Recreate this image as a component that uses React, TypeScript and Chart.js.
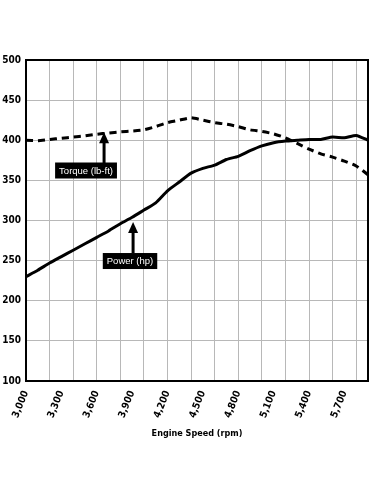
import React, { useEffect, useRef } from "react";
import { Chart, registerables } from "chart.js";

Chart.register(...registerables);

const rpm = [3000, 3100, 3200, 3300, 3400, 3500, 3600, 3700, 3800, 3900, 4000, 4100, 4200, 4300, 4400, 4500, 4600, 4700, 4800, 4900, 5000, 5100, 5200, 5300, 5400, 5500, 5600, 5700, 5800, 5900];
const powerHp = [230, 238, 247, 255, 263, 271, 279, 287, 296, 304, 313, 322, 337, 348, 359, 365, 369, 376, 380, 387, 393, 397, 399, 400, 401, 401, 404, 403, 406, 400];
const torqueLbFt = [400, 399.5, 401, 402.5, 404, 405.5, 407.5, 409, 410.5, 411.5, 413, 417, 422, 425, 428, 425, 422, 420, 417, 413, 411, 408, 403, 396, 389, 383, 379, 374, 368, 357];

const yMin = 100;
const yMax = 500;
const yStep = 50;
const xMin = 3000;
const xMax = 5900;

const noteText = ["Torque (lb-ft)", "Power (hp)"];
const noteBoxRpm = [3509, 3882];
const noteBoxValue = [362.3, 249.5];
const noteArrowRpm = [3662, 3908];
const noteArrowTip = [410, 298];
const noteArrowBase = [371.6, 259.5];

const xTitle = "Engine Speed (rpm)";
const condensed = "'DejaVu Sans Condensed', 'Liberation Sans Narrow', 'DejaVu Sans', sans-serif";

const framePlugin = {
  id: "frame",
  beforeDatasetsDraw(chart: any) {
    const { ctx, chartArea } = chart;
    ctx.save();
    ctx.strokeStyle = "#000";
    ctx.lineWidth = 2;
    ctx.strokeRect(chartArea.left, chartArea.top, chartArea.right - chartArea.left, chartArea.bottom - chartArea.top);
    ctx.restore();
  },
};

const notesPlugin = {
  id: "notes",
  afterDatasetsDraw(chart: any) {
    const { ctx } = chart;
    const xs = chart.scales.x;
    const ys = chart.scales.y;
    ctx.save();
    ctx.font = "9.5px 'Liberation Sans', Arial, sans-serif";
    for (let i = 0; i < noteText.length; i++) {
      const ax = xs.getPixelForValue(noteArrowRpm[i]);
      const tipY = ys.getPixelForValue(noteArrowTip[i]);
      const baseY = ys.getPixelForValue(noteArrowBase[i]);
      ctx.strokeStyle = "#000";
      ctx.lineWidth = 3;
      ctx.beginPath();
      ctx.moveTo(ax, baseY);
      ctx.lineTo(ax, tipY + 8);
      ctx.stroke();
      ctx.fillStyle = "#000";
      ctx.beginPath();
      ctx.moveTo(ax, tipY);
      ctx.lineTo(ax - 5, tipY + 11);
      ctx.lineTo(ax + 5, tipY + 11);
      ctx.closePath();
      ctx.fill();
      const cx = xs.getPixelForValue(noteBoxRpm[i]);
      const cy = ys.getPixelForValue(noteBoxValue[i]);
      const w = ctx.measureText(noteText[i]).width + 8;
      const h = 16;
      ctx.fillStyle = "#000";
      ctx.fillRect(cx - w / 2, cy - h / 2, w, h);
      ctx.fillStyle = "#fff";
      ctx.textAlign = "center";
      ctx.textBaseline = "middle";
      ctx.fillText(noteText[i], cx, cy + 0.5);
    }
    ctx.restore();
  },
};

export default function App() {
  const ref = useRef<HTMLCanvasElement | null>(null);
  useEffect(() => {
    if (!ref.current) return;
    const chart = new Chart(ref.current, {
      type: "line",
      data: {
        datasets: [
          {
            label: "Power (hp)",
            data: rpm.map((r, i) => ({ x: r, y: powerHp[i] })),
            borderColor: "#000",
            borderWidth: 3,
            pointRadius: 0,
            tension: 0.2,
            fill: false,
          },
          {
            label: "Torque (lb-ft)",
            data: rpm.map((r, i) => ({ x: r, y: torqueLbFt[i] })),
            borderColor: "#000",
            borderWidth: 3,
            borderDash: [7, 5],
            pointRadius: 0,
            tension: 0.2,
            fill: false,
          },
        ],
      },
      options: {
        responsive: false,
        animation: false,
        layout: { padding: { top: 60, right: 3, bottom: 54, left: 0 } },
        plugins: {
          legend: { display: false },
          tooltip: { enabled: false },
        },
        scales: {
          x: {
            type: "linear",
            min: xMin,
            max: xMax,
            afterFit: (s: any) => {
              s.height = 60;
              s.paddingRight = 0;
              s.paddingLeft = 0;
            },
            border: { display: false },
            grid: {
              drawTicks: false,
              lineWidth: 1,
              color: (c: any) => (c.tick && c.tick.value % 200 === 0 ? "#b8b8b8" : "rgba(0,0,0,0)"),
            },
            ticks: {
              stepSize: 100,
              autoSkip: false,
              minRotation: 68,
              maxRotation: 68,
              padding: 8,
              color: "#000",
              font: { family: condensed, size: 10, weight: "bold" },
              callback: (v: any) => (Number(v) % 300 === 0 ? Number(v).toLocaleString("en-US") : ""),
            },
            title: {
              display: true,
              text: xTitle,
              color: "#000",
              font: { family: condensed, size: 9, weight: "bold" },
              padding: { top: 0, bottom: 2 },
            },
          },
          y: {
            min: yMin,
            max: yMax,
            afterFit: (s: any) => {
              s.width = 26;
            },
            border: { display: false },
            grid: { drawTicks: false, color: "#b8b8b8", lineWidth: 1 },
            ticks: {
              stepSize: yStep,
              padding: 5,
              color: "#000",
              font: { family: condensed, size: 10, weight: "bold" },
            },
          },
        },
      },
      plugins: [framePlugin, notesPlugin],
    });
    return () => chart.destroy();
  }, []);
  return (
    <div style={{ position: "absolute", left: 0, top: 0, width: 371, height: 495, background: "#fff" }}>
      <canvas ref={ref} width={371} height={495} style={{ width: 371, height: 495, display: "block" }} />
    </div>
  );
}
